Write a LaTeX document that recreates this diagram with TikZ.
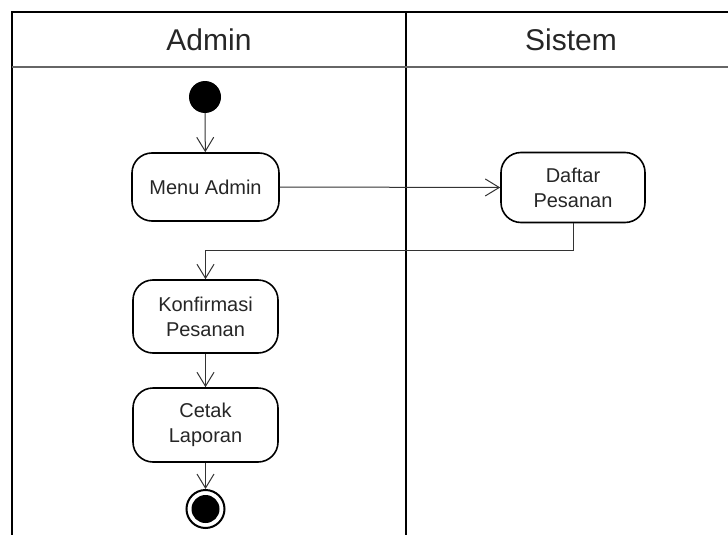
\documentclass[tikz,border=0pt]{standalone}
\usepackage{fontspec}
\setmainfont{Liberation Sans}
\usetikzlibrary{arrows.meta}
\begin{document}
\begin{tikzpicture}[x=1pt,y=-1pt,
  lane/.style={line width=2pt,black},
  headline/.style={line width=2pt,black!60},
  action/.style={draw,line width=1.6pt,rounded corners=20pt,align=center,
    inner sep=0pt,font=\fontsize{20}{25}\selectfont,text=black!85},
  flow/.style={line width=1pt,black!80,-{Straight Barb[length=14pt,width=17pt,line width=1pt]}},
  lanetitle/.style={font=\fontsize{30}{36}\selectfont,text=black!85}]
\useasboundingbox (0,0) rectangle (728,535);
% swimlane frame
\draw[lane] (728,12) -- (12,12) -- (12,535);
\draw[lane] (406,12) -- (406,535);
\draw[headline] (12,67) -- (728,67);
\node[lanetitle] (admin) at (209,40) {Admin};
\node[lanetitle] (sistem) at (571,40) {Sistem};
% activity nodes
\node[circle,fill=black,minimum size=32pt,inner sep=0pt] (start) at (205,97) {};
\node[action,minimum width=147pt,minimum height=68pt] (menu) at (205.5,187) {Menu Admin};
\node[action,minimum width=144pt,minimum height=70pt] (daftar) at (573,187.5) {Daftar\\Pesanan};
\node[action,minimum width=145pt,minimum height=73pt] (konf) at (205.5,316.5) {Konfirmasi\\Pesanan};
\node[action,minimum width=145pt,minimum height=74pt] (cetak) at (205.5,425) {Cetak\\Laporan};
\node[circle,draw,line width=2pt,minimum size=38pt,inner sep=0pt] (final) at (205.5,509) {};
\node[circle,fill=black,minimum size=28pt,inner sep=0pt] (finaldot) at (final.center) {};
% control flow
\draw[flow] (start) -- (menu);
\draw[flow] (menu.east) -- (daftar.west);
\draw[flow] (daftar.south) -- ++(0,27) -| (konf.north);
\draw[flow] (konf) -- (cetak);
\draw[flow] (cetak) -- (final);
\end{tikzpicture}
\end{document}
